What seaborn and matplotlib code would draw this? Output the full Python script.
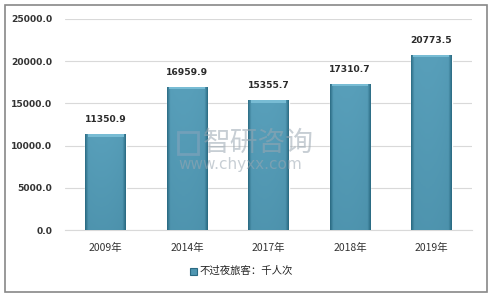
import numpy as np
import pandas as pd
import seaborn as sns
import matplotlib
matplotlib.use("Agg")
import matplotlib.pyplot as plt
from matplotlib.patches import Rectangle

years = ["2009年", "2014年", "2017年", "2018年", "2019年"]
values = [11350.9, 16959.9, 15355.7, 17310.7, 20773.5]
series_name = "不过夜旅客：千人次"
yticks = [0, 5000, 10000, 15000, 20000, 25000]

sns.set_theme(style="white")
plt.rcParams['font.family'] = ['Noto Sans CJK SC', 'DejaVu Sans']

df = pd.DataFrame({"year": years, "value": values})

fig = plt.figure(figsize=(4.95, 2.98), dpi=100)
ax = fig.add_axes([65/495, 1-230/298, (472-65)/495, (230-19)/298])

sns.barplot(data=df, x="year", y="value", ax=ax, color="#4f96b1", width=0.5,
            saturation=1, zorder=3)

# gradient overlay on bars (bevelled look)
n = 80
xs = np.linspace(0, 1, n)
edge = np.minimum(xs, 1 - xs)
prof = np.where(edge < 0.08, 0.55 + 0.45 * edge / 0.08, 1.0) * (1 - 0.12 * (xs - 0.4) ** 2)
grad = np.outer(np.linspace(1.0, 0.9, n), prof)
cmap = matplotlib.colors.LinearSegmentedColormap.from_list("b", ["#2a6a82", "#589fba"])
for p in ax.patches:
    x0, y0 = p.get_x(), p.get_y()
    w, hh = p.get_width(), p.get_height()
    im = ax.imshow(grad, extent=[x0, x0 + w, y0, y0 + hh], aspect="auto",
                   cmap=cmap, vmin=0.5, vmax=1.0, zorder=4, origin="upper")
    im.set_clip_path(p)
    ax.add_patch(Rectangle((x0 + w * 0.06, hh - 280), w * 0.88, 280, color="#78bcd4",
                           zorder=5, lw=0))

for i, v in enumerate(values):
    ax.text(i, v + 1200, f"{v:.1f}", ha="center", va="bottom", fontsize=6.6,
            color="#2b2b2b", fontweight="bold", family="DejaVu Sans")

ax.set_ylim(0, 25000)
ax.set_xlim(-0.5, 4.5)
ax.set_yticks(yticks)
ax.set_yticklabels([f"{t:.1f}" for t in yticks], fontsize=6.6, color="#333333",
                   fontweight="bold", family="DejaVu Sans")
ax.set_xticklabels(years, fontsize=7.5, color="#333333")
ax.tick_params(axis="both", length=0, pad=9)
ax.set_xlabel("")
ax.set_ylabel("")
ax.yaxis.grid(True, color="#d9d9d9", lw=0.8, zorder=0)
ax.set_axisbelow(True)
for s in ["top", "right", "left"]:
    ax.spines[s].set_visible(False)
ax.spines["bottom"].set_color("#d9d9d9")
ax.spines["bottom"].set_linewidth(0.8)

# legend
fig.patches.append(Rectangle((190/495, 1-275/298), 7/495, 7/298, transform=fig.transFigure,
                             facecolor="#4f96b1", edgecolor="#2a6a82", lw=0.8))
fig.text(200/495, 1-271/298, series_name, fontsize=7.5, va="center", ha="left",
         color="#222222")

# watermark
fig.text(203/495, 1-143/298, "智研咨询", fontsize=20, color="#9aa7b2", alpha=0.55,
         va="center", ha="left", zorder=10)
fig.text(178/495, 1-164/298, "www.chyxx.com", fontsize=11, color="#9aa7b2", alpha=0.55,
         va="center", ha="left", family="DejaVu Sans", zorder=10)
fig.patches.append(Rectangle((178/495, 1-154/298), 20/495, 22/298, transform=fig.transFigure,
                             facecolor="none", edgecolor="#8fa6bd", lw=2, alpha=0.5))

# border
fig.patches.append(Rectangle((5/495, 1-292/298), 482/495, 287/298, transform=fig.transFigure,
                             facecolor="none", edgecolor="#888888", lw=1.2))

fig.savefig("out.png", dpi=100)
